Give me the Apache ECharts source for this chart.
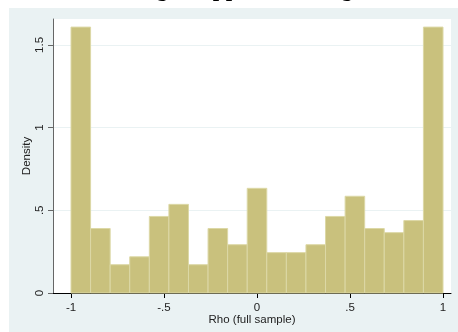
<!DOCTYPE html>
<html>
<head>
<meta charset="utf-8">
<script src="https://cdn.jsdelivr.net/npm/echarts@6/dist/echarts.min.js"></script>
<style>
  html, body { margin: 0; padding: 0; background: #ffffff; }
  #chart { width: 458px; height: 332px; }
</style>
</head>
<body>
<div id="chart"></div>
<script>
// Histogram bins: lower/upper edges (19 equal-width bins on [-1, 1])
const binEdges = [-1, -0.8947, -0.7895, -0.6842, -0.5789, -0.4737, -0.3684, -0.2632,
  -0.1579, -0.0526, 0.0526, 0.1579, 0.2632, 0.3684, 0.4737, 0.5789, 0.6842,
  0.7895, 0.8947, 1];
// Density of each bin
const density = [1.608, 0.390, 0.171, 0.219, 0.463, 0.536, 0.171, 0.390, 0.292,
  0.633, 0.244, 0.244, 0.292, 0.463, 0.585, 0.390, 0.365, 0.438, 1.608];

// Tick values and their printed labels
const xTicks = [-1, -0.5, 0, 0.5, 1];
const xTickLabels = ['-1', '-.5', '0', '.5', '1'];
const yTicks = [0, 0.5, 1, 1.5];
const yTickLabels = ['0', '.5', '1', '1.5'];

const titleText = "Rho among a supplier's ratings";
const xName = 'Rho (full sample)';
const yName = 'Density';

const bars = density.map((d, i) => [binEdges[i], binEdges[i + 1], d]);

const labelFor = (ticks, labels) => v => {
  for (let i = 0; i < ticks.length; i++) {
    if (Math.abs(ticks[i] - v) < 1e-6) return labels[i];
  }
  return '';
};

const chart = echarts.init(document.getElementById('chart'), null, { renderer: 'canvas' });

chart.setOption({
  animation: false,
  backgroundColor: '#ffffff',
  graphic: [
    {
      type: 'rect',
      z: -5,
      shape: { x: 9, y: 8, width: 449, height: 324 },
      style: { fill: '#eaf2f3' }
    },
    {
      type: 'text',
      z: 10,
      x: 55,
      y: 2,
      style: {
        text: titleText,
        font: 'bold 23px "Liberation Serif"',
        fill: '#000000',
        textAlign: 'left',
        textVerticalAlign: 'bottom'
      }
    }
  ],
  grid: {
    left: 53, right: 7, top: 19, bottom: 39,
    show: true,
    backgroundColor: '#ffffff',
    borderWidth: 0
  },
  xAxis: {
    type: 'value',
    min: -1.0968,
    max: 1.043,
    name: xName,
    nameLocation: 'middle',
    nameGap: 21,
    nameMoveOverlap: false,
    nameTextStyle: { fontFamily: 'Liberation Sans', fontSize: 11.5, color: '#222' },
    axisLine: { show: true, onZero: false, lineStyle: { color: '#000', width: 1 } },
    axisTick: { show: true, length: 5, customValues: xTicks, lineStyle: { color: '#000' } },
    axisLabel: {
      customValues: xTicks,
      margin: 9,
      fontFamily: 'Liberation Sans',
      fontSize: 11.5,
      color: '#222',
      formatter: labelFor(xTicks, xTickLabels)
    },
    splitLine: { show: false }
  },
  yAxis: {
    type: 'value',
    min: 0,
    max: 1.657,
    interval: 0.5,
    name: yName,
    nameLocation: 'middle',
    nameGap: 20,
    nameMoveOverlap: false,
    nameTextStyle: { fontFamily: 'Liberation Sans', fontSize: 11.5, color: '#222' },
    axisLine: { show: true, onZero: false, lineStyle: { color: '#666', width: 1 } },
    axisTick: { show: true, length: 5, customValues: yTicks, lineStyle: { color: '#666' } },
    axisLabel: {
      customValues: yTicks,
      rotate: 90,
      margin: 7,
      fontFamily: 'Liberation Sans',
      fontSize: 11.5,
      color: '#222',
      formatter: labelFor(yTicks, yTickLabels)
    },
    splitLine: { show: true, lineStyle: { color: '#eaf2f3', width: 1.2 } }
  },
  series: [{
    type: 'custom',
    data: bars,
    encode: { x: [0, 1], y: 2 },
    renderItem: (params, api) => {
      const p0 = api.coord([api.value(0), 0]);
      const p1 = api.coord([api.value(1), api.value(2)]);
      return {
        type: 'rect',
        shape: { x: p0[0], y: p1[1], width: p1[0] - p0[0], height: p0[1] - p1[1] },
        style: { fill: '#c9c17d', stroke: '#dcd8a6', lineWidth: 1 }
      };
    }
  }]
});
</script>
</body>
</html>
